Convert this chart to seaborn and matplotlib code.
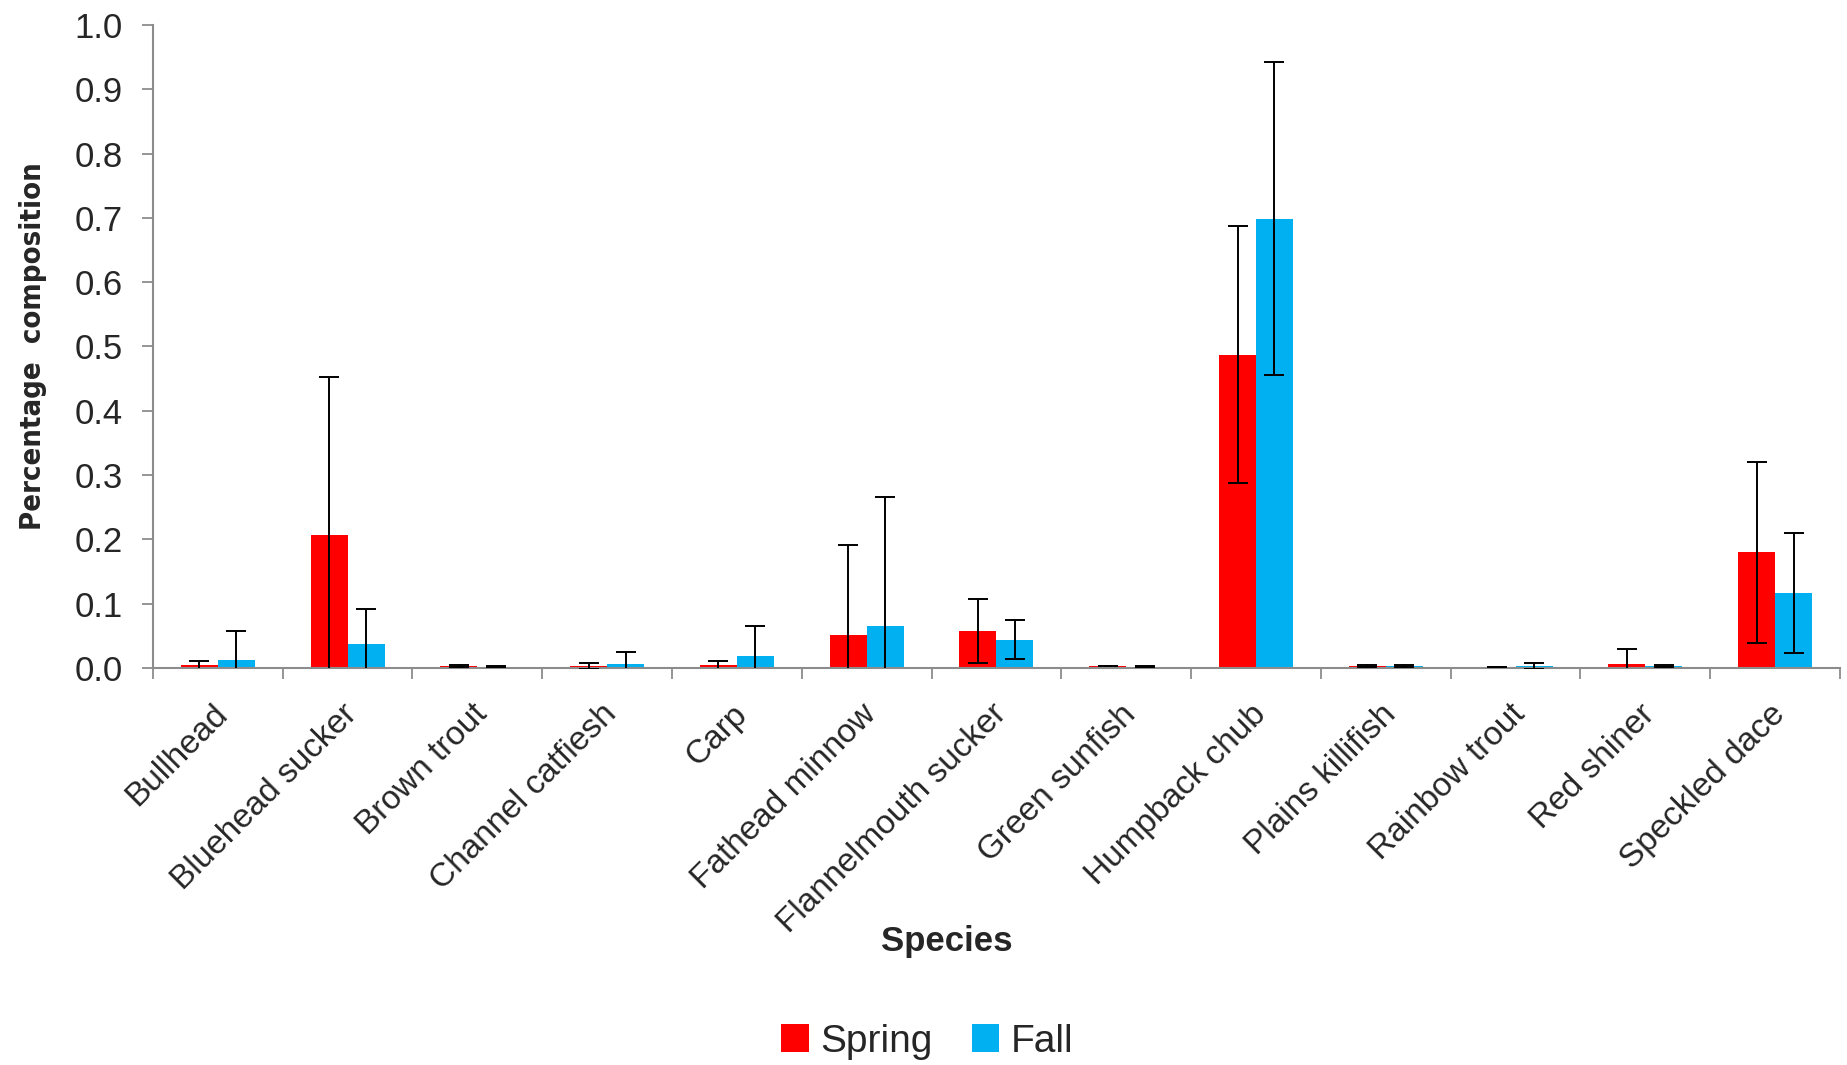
import numpy as np
import pandas as pd
import matplotlib
matplotlib.use("Agg")
import matplotlib.pyplot as plt
import matplotlib.transforms as mtransforms
from matplotlib import font_manager
from matplotlib.ticker import FixedLocator, FormatStrFormatter
import seaborn as sns

# ---- data: mean percentage composition and standard deviation by season ----
species = [
    "Bullhead", "Bluehead sucker", "Brown trout", "Channel catfiesh", "Carp",
    "Fathead minnow", "Flannelmouth sucker", "Green sunfish", "Humpback chub",
    "Plains killifish", "Rainbow trout", "Red shiner", "Speckled dace",
]
seasons = ["Spring", "Fall"]
spring_mean = [0.004, 0.207, 0.003, 0.003, 0.004, 0.052, 0.058, 0.003, 0.487, 0.003, 0.002, 0.006, 0.180]
spring_sd = [0.007, 0.245, 0.001, 0.005, 0.007, 0.139, 0.050, 0.0005, 0.200, 0.002, 0.0, 0.024, 0.141]
fall_mean = [0.012, 0.038, 0.002, 0.006, 0.018, 0.066, 0.044, 0.002, 0.699, 0.003, 0.003, 0.003, 0.117]
fall_sd = [0.045, 0.053, 0.001, 0.019, 0.048, 0.200, 0.030, 0.0005, 0.243, 0.002, 0.004, 0.002, 0.093]
y_ticks = [round(0.1 * i, 1) for i in range(11)]

df = pd.DataFrame({
    "Species": species * 2,
    "Season": ["Spring"] * len(species) + ["Fall"] * len(species),
    "Composition": spring_mean + fall_mean,
})

sns.set_theme(style="white")
plt.rcParams["font.family"] = ["Liberation Sans", "DejaVu Sans"]

colors = {"Spring": "#FF0000", "Fall": "#00B0F0"}
axis_grey = "#8C8C8C"

YLABEL = "Percentage  composition"
YLABEL_LENGTH_PX = 368  # drawn length of the rotated y-axis title


def fitted_bold_font(text, target_px, fig):
    """Condensed bold face (if installed), sized so the title spans target_px."""
    prop = None
    for spec in [dict(family="Liberation Sans Narrow", weight="bold"),
                 dict(family="DejaVu Sans", weight="bold", stretch="condensed")]:
        try:
            path = font_manager.findfont(font_manager.FontProperties(**spec),
                                         fallback_to_default=False)
        except ValueError:
            continue
        if "narrow" in path.lower() or "condensed" in path.lower():
            prop = font_manager.FontProperties(fname=path)
            break
    if prop is None:
        prop = font_manager.FontProperties(family="Liberation Sans", weight="bold")
    prop.set_size(20)
    renderer = fig.canvas.get_renderer()
    probe = fig.text(0, 0, text, fontproperties=prop)
    width = probe.get_window_extent(renderer).width
    probe.remove()
    prop.set_size(20 * target_px / width)
    return prop


fig = plt.figure(figsize=(18.47, 10.65), dpi=100)
ax = fig.add_axes([0.0828, 0.3728, 0.9134, 0.6037])

sns.barplot(
    data=df, x="Species", y="Composition", hue="Season", hue_order=seasons,
    order=species, palette=colors, width=0.57, gap=0, saturation=1,
    errorbar=None, linewidth=0, ax=ax,
)

# standard deviation whiskers centred on each bar
for container, means, sds in zip(ax.containers, [spring_mean, fall_mean], [spring_sd, fall_sd]):
    xs = [bar.get_x() + bar.get_width() / 2 for bar in container]
    ax.errorbar(xs, means, yerr=sds, fmt="none", ecolor="black",
                elinewidth=1.4, capsize=7, capthick=1.4, zorder=3)

ax.set_xlim(-0.5, len(species) - 0.5)
ax.set_ylim(0, 1.0)

# y axis
ax.yaxis.set_major_locator(FixedLocator(y_ticks))
ax.yaxis.set_major_formatter(FormatStrFormatter("%.1f"))
ax.tick_params(axis="y", which="major", direction="out", length=8, width=1.3,
               color=axis_grey, labelsize=25, pad=14, left=True)

# x axis: tick marks between categories, labels at category centres
ax.xaxis.set_minor_locator(FixedLocator(np.arange(-0.5, len(species), 1.0)))
ax.tick_params(axis="x", which="minor", direction="out", length=8, width=1.3,
               color=axis_grey, bottom=True)
ax.tick_params(axis="x", which="major", length=0, pad=30, labelsize=24)
offset = mtransforms.ScaledTranslation(0.05, 0, fig.dpi_scale_trans)
for lab in ax.get_xticklabels():
    lab.set_rotation(45)
    lab.set_rotation_mode("anchor")
    lab.set_ha("right")
    lab.set_va("center")
    lab.set_transform(lab.get_transform() + offset)

for side in ["top", "right"]:
    ax.spines[side].set_visible(False)
for side in ["left", "bottom"]:
    ax.spines[side].set_color(axis_grey)
    ax.spines[side].set_linewidth(1.5)

ax.set_xlabel("Species", fontsize=25, fontweight="bold")
ax.xaxis.set_label_coords(0.4707, -0.40)
ax.set_ylabel(YLABEL, fontproperties=fitted_bold_font(YLABEL, YLABEL_LENGTH_PX, fig))
ax.yaxis.set_label_coords(-0.063, 0.5)

handles, labels = ax.get_legend_handles_labels()
ax.get_legend().remove()
fig.legend(handles, labels, loc="center", bbox_to_anchor=(0.502, 0.022), ncol=2,
           frameon=False, fontsize=28, handlelength=0.7, handleheight=0.7,
           handletextpad=0.3, columnspacing=1.0, borderaxespad=0)

fig.savefig("out.png", dpi=100)
